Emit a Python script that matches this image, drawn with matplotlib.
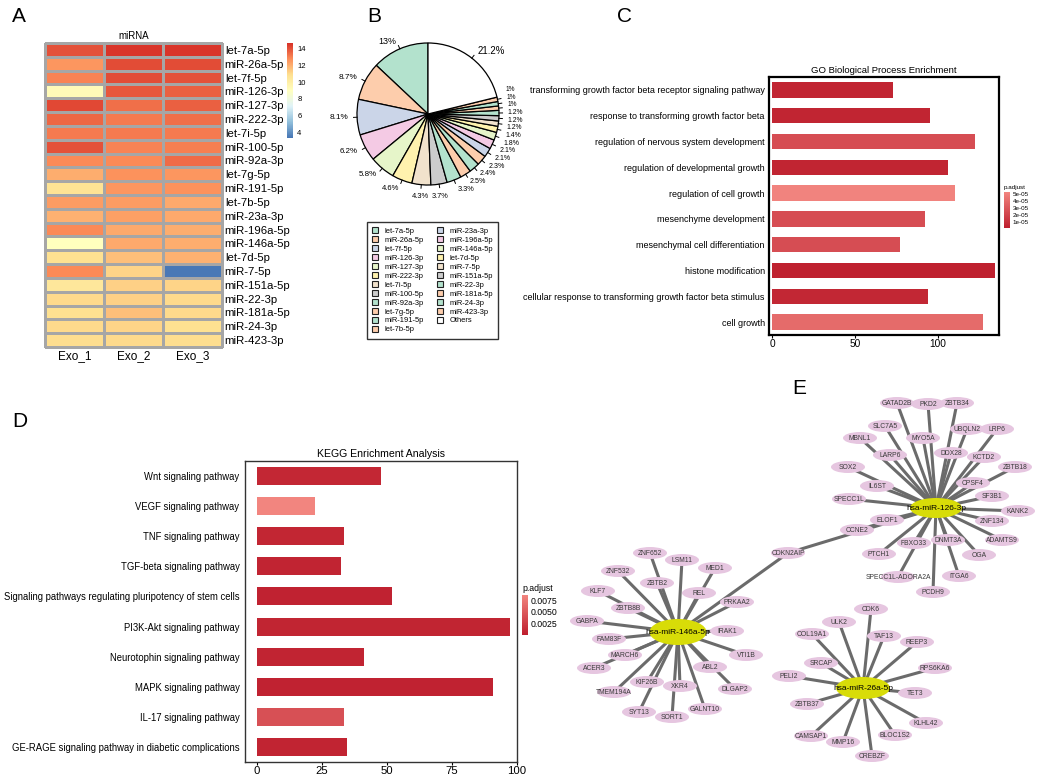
import numpy as np
import matplotlib.pyplot as plt
from matplotlib.colors import LinearSegmentedColormap, Normalize
from matplotlib.patches import Ellipse, Patch
import matplotlib.cm as cm

plt.rcParams['font.family'] = ['Liberation Sans', 'DejaVu Sans']

W, H = 1038, 777

# ---------------- A: miRNA heatmap ----------------
mirnas = ['let-7a-5p', 'miR-26a-5p', 'let-7f-5p', 'miR-126-3p', 'miR-127-3p',
          'miR-222-3p', 'let-7i-5p', 'miR-100-5p', 'miR-92a-3p', 'let-7g-5p',
          'miR-191-5p', 'let-7b-5p', 'miR-23a-3p', 'miR-196a-5p', 'miR-146a-5p',
          'let-7d-5p', 'miR-7-5p', 'miR-151a-5p', 'miR-22-3p', 'miR-181a-5p',
          'miR-24-3p', 'miR-423-3p']
samples = ['Exo_1', 'Exo_2', 'Exo_3']
exo_1 = [13.9, 12.5, 12.9, 9.3, 14.1, 13.5, 13.1, 13.9, 12.8, 12.0, 10.7, 12.4,
         11.9, 12.8, 9.0, 10.8, 12.8, 10.4, 11.0, 10.8, 11.0, 10.9]
exo_2 = [14.5, 14.0, 14.0, 13.8, 13.3, 13.1, 13.1, 12.9, 12.8, 12.6, 12.5, 12.4,
         12.3, 12.1, 12.1, 11.6, 11.1, 11.2, 11.2, 11.6, 11.1, 11.0]
exo_3 = [14.5, 14.0, 13.9, 13.6, 13.6, 13.3, 13.1, 13.0, 13.4, 12.5, 12.6, 12.1,
         12.1, 12.0, 12.0, 11.9, 3.5, 11.1, 11.0, 11.0, 10.8, 10.9]

# ---------------- B: pie of miRNA share ----------------
pie_labels = mirnas + ['Others']
pie_pct = [13, 8.7, 8.1, 6.2, 5.8, 4.6, 4.3, 3.7, 3.3, 2.5, 2.4, 2.3, 2.1, 2.1,
           1.8, 1.4, 1.2, 1.2, 1.2, 1, 1, 1, 21.2]
pie_colors = ['#B3E2CD', '#FDCDAC', '#CBD5E8', '#F4CAE4', '#E6F5C9', '#FFF2AE',
              '#F1E2CC', '#CCCCCC', '#B3E2CD', '#FDCDAC', '#B3E2CD', '#FDCDAC',
              '#CBD5E8', '#F4CAE4', '#E6F5C9', '#FFF2AE', '#F1E2CC', '#CCCCCC',
              '#B3E2CD', '#FDCDAC', '#B3E2CD', '#FDCDAC', '#FFFFFF']

# ---------------- C: GO enrichment ----------------
go_terms = ['transforming growth factor beta receptor signaling pathway',
            'response to transforming growth factor beta',
            'regulation of nervous system development',
            'regulation of developmental growth',
            'regulation of cell growth',
            'mesenchyme development',
            'mesenchymal cell differentiation',
            'histone modification',
            'cellular response to transforming growth factor beta stimulus',
            'cell growth']
go_count = [73, 95, 122, 106, 110, 92, 77, 134, 94, 127]
go_padj = [5e-6, 5e-6, 2.5e-5, 5e-6, 5.2e-5, 2.5e-5, 2.5e-5, 3e-6, 6e-6, 4e-5]

# ---------------- D: KEGG enrichment ----------------
kegg_terms = ['Wnt signaling pathway', 'VEGF signaling pathway', 'TNF signaling pathway',
              'TGF-beta signaling pathway',
              'Signaling pathways regulating pluripotency of stem cells',
              'PI3K-Akt signaling pathway', 'Neurotophin signaling pathway',
              'MAPK signaling pathway', 'IL-17 signaling pathway',
              'GE-RAGE signaling pathway in diabetic complications']
kegg_count = [47.6, 22.3, 33.5, 32.4, 52, 97.2, 41.1, 90.7, 33.4, 34.5]
kegg_padj = [0.0008, 0.0086, 0.0007, 0.0005, 0.0004, 0.0006, 0.0005, 0.0004, 0.0042, 0.0005]

# ---------------- E: miRNA-target network ----------------
hub_names = ['hsa-miR-126-3p', 'hsa-miR-146a-5p', 'hsa-miR-26a-5p']
hub_xy = [(936, 508), (678, 632), (863, 688)]
hub_size = [(52, 20), (57, 26), (54, 22)]
t126_names = ['GATAD2B', 'PKD2', 'ZBTB34', 'SLC7A5', 'UBQLN2', 'LRP6', 'MBNL1', 'MYO5A',
              'DDX28', 'LARP6', 'KCTD2', 'ZBTB18', 'SOX2', 'IL6ST', 'CPSF4', 'SF3B1',
              'SPECC1L', 'KANK2', 'ELOF1', 'ZNF134', 'CCNE2', 'ADAMTS9', 'FBXO33',
              'DNMT3A', 'PTCH1', 'OGA', 'SPECC1L-ADORA2A', 'ITGA6', 'PCDH9', 'CDKN2AIP']
t126_xy = [(897, 403), (928, 404), (957, 403), (885, 426), (967, 429), (997, 429),
           (860, 438), (923, 438), (951, 453), (890, 455), (984, 457), (1015, 467),
           (848, 467), (877, 486), (973, 483), (992, 496), (849, 499), (1018, 511),
           (887, 520), (992, 521), (857, 530), (1002, 540), (914, 543), (948, 540),
           (879, 554), (979, 555), (898, 577), (959, 576), (933, 592), (788, 553)]
t146_names = ['ZNF652', 'LSM11', 'MED1', 'ZNF532', 'ZBTB2', 'KLF7', 'REL', 'PRKAA2',
              'ZBTB8B', 'GABPA', 'IRAK1', 'FAM83F', 'MARCH6', 'VTI1B', 'ACER3', 'ABL2',
              'KIF26B', 'XKR4', 'DLGAP2', 'TMEM194A', 'GALNT10', 'SYT13', 'SORT1']
t146_xy = [(650, 553), (682, 560), (715, 568), (618, 571), (657, 583), (598, 591),
           (699, 593), (737, 602), (628, 608), (587, 621), (727, 631), (609, 639),
           (625, 655), (746, 655), (594, 668), (710, 667), (647, 682), (680, 686),
           (735, 689), (614, 692), (705, 709), (639, 712), (672, 717)]
t26_names = ['CDK6', 'ULK2', 'COL19A1', 'TAF13', 'REEP3', 'SRCAP', 'RPS6KA6', 'PELI2',
             'TET3', 'ZBTB37', 'KLHL42', 'CAMSAP1', 'BLOC1S2', 'MMP16', 'CREBZF']
t26_xy = [(871, 609), (839, 622), (812, 634), (884, 636), (917, 642), (821, 663),
          (935, 668), (789, 676), (915, 693), (807, 704), (926, 723), (811, 736),
          (895, 735), (843, 742), (872, 756)]

fig = plt.figure(figsize=(10.38, 7.77), dpi=100)


def px_axes(x0, y0, x1, y1):
    return fig.add_axes([x0 / W, 1 - y1 / H, (x1 - x0) / W, (y1 - y0) / H])


# ---- A
heat_cmap = LinearSegmentedColormap.from_list(
    'rdylbu', ['#4575B4', '#91BFDB', '#E0F3F8', '#FFFFBF', '#FEE090', '#FC8D59', '#D73027'])
ax = px_axes(45, 43, 222, 347)
mat = np.column_stack([exo_1, exo_2, exo_3])
mesh = ax.pcolormesh(mat, cmap=heat_cmap, vmin=3.4, vmax=14.6,
                     edgecolors='#A6A6A6', linewidth=1.0)
mesh.set_clip_on(False)
ax.set_xlim(0, 3)
ax.set_ylim(len(mirnas), 0)
ax.yaxis.tick_right()
ax.set_yticks(np.arange(len(mirnas)) + 0.5, mirnas, fontsize=8.2)
ax.set_xticks(np.arange(3) + 0.5, samples, fontsize=8.5)
ax.tick_params(length=0, pad=2)
for s in ax.spines.values():
    s.set_visible(False)
ax.set_title('miRNA', fontsize=7, pad=3)
cax = px_axes(287, 43, 293, 138)
cb = fig.colorbar(mesh, cax=cax, ticks=range(4, 15, 2))
cb.outline.set_visible(False)
cax.tick_params(labelsize=5.5, length=0, pad=3)

# ---- B
axp = px_axes(308, -6, 548, 234)
axp.pie(pie_pct, colors=pie_colors, startangle=90, counterclock=True,
        wedgeprops=dict(edgecolor='black', linewidth=0.9))
axp.set_xlim(-1.69, 1.69)
axp.set_ylim(-1.69, 1.69)
axp.set_aspect('equal')
axp.axis('off')

pct = np.array(pie_pct, dtype=float)
frac = pct / pct.sum()
start = 90 + 360 * np.concatenate([[0], np.cumsum(frac)[:-1]])
mid = np.deg2rad(start + 180 * frac)
r_lab = 1.12
lx = r_lab * np.cos(mid)
ly = r_lab * np.sin(mid)
ang = np.rad2deg(np.arctan2(np.sin(mid), np.cos(mid)))
grp = np.where((ang > -70) & (ang < 40) & (pct < 4))[0]
order = grp[np.argsort(-ly[grp])]
gap = 0.108
for _ in range(400):
    for a, b in zip(order[:-1], order[1:]):
        diff = ly[a] - ly[b]
        if diff < gap:
            d = (gap - diff) / 2
            ly[a] += d
            ly[b] -= d
for i, (p, m) in enumerate(zip(pct, mid)):
    c, s = np.cos(m), np.sin(m)
    axp.plot([c, 1.05 * c], [s, 1.05 * s], color='black', lw=0.7)
    ha = 'left' if c > 0.35 else ('right' if c < -0.35 else 'center')
    va = 'top' if (s < -0.9 and ha == 'center') else 'center'
    axp.text(lx[i], ly[i], f'{p:g}%', ha=ha, va=va,
             fontsize=4.2 + 0.6 * np.sqrt(p))

handles = [Patch(facecolor=c, edgecolor='#222222', linewidth=0.8) for c in pie_colors]
leg = fig.legend(handles, pie_labels, loc='upper left', bbox_to_anchor=(367 / W, 1 - 222 / H),
                 ncol=2, fontsize=5.4, frameon=True, edgecolor='black', fancybox=False,
                 handlelength=0.8, handleheight=0.8, labelspacing=0.2, columnspacing=1.8,
                 borderpad=0.7, handletextpad=0.8, borderaxespad=0)
leg.get_frame().set_linewidth(1.0)

# ---- C
red_cmap = LinearSegmentedColormap.from_list('reds', ['#BE1E2D', '#F2857F'])
norm_c = Normalize(1.4e-6, 5.3e-5)
axc = px_axes(769, 77, 999, 335)
yc = np.arange(len(go_terms))
axc.barh(yc, go_count, height=0.6, color=red_cmap(norm_c(np.array(go_padj))))
axc.set_ylim(len(go_terms) - 0.5, -0.5)
axc.set_xlim(-1.8, 136.7)
axc.set_xticks([0, 50, 100])
axc.set_yticks(yc, go_terms, fontsize=6.5)
axc.tick_params(axis='y', length=0, pad=3)
axc.tick_params(axis='x', length=2, labelsize=7.3, pad=1)
for s in axc.spines.values():
    s.set_linewidth(1.6)
axc.set_title('GO Biological Process Enrichment', fontsize=6.8, pad=3)
caxc = px_axes(1004, 192, 1010, 228)
cbc = fig.colorbar(cm.ScalarMappable(norm=norm_c, cmap=red_cmap), cax=caxc,
                   ticks=[1e-5, 2e-5, 3e-5, 4e-5, 5e-5])
cbc.outline.set_visible(False)
caxc.set_yticklabels(['1e-05', '2e-05', '3e-05', '4e-05', '5e-05'])
caxc.tick_params(labelsize=4.5, length=0, pad=2)
caxc.set_title('p.adjust', fontsize=4.5, loc='left', pad=2)

# ---- D
norm_d = Normalize(0, 0.0086)
axd = px_axes(245, 461, 517, 762)
yd = np.arange(len(kegg_terms))
axd.barh(yd, kegg_count, height=0.6, color=red_cmap(norm_d(np.array(kegg_padj))))
axd.set_ylim(len(kegg_terms) - 0.5, -0.5)
axd.set_xlim(-4.6, 100)
axd.set_xticks([0, 25, 50, 75, 100])
axd.set_yticks(yd, kegg_terms, fontsize=6.85)
axd.tick_params(axis='y', length=0, pad=4)
axd.tick_params(axis='x', length=2, labelsize=8.2, pad=1)
for s in axd.spines.values():
    s.set_linewidth(1.0)
    s.set_color('#333333')
axd.set_title('KEGG Enrichment Analysis', fontsize=7.6, pad=3)
caxd = px_axes(522, 595, 528, 635)
cbd = fig.colorbar(cm.ScalarMappable(norm=norm_d, cmap=red_cmap), cax=caxd,
                   ticks=[0.0025, 0.005, 0.0075])
cbd.outline.set_visible(False)
caxd.set_yticklabels(['0.0025', '0.0050', '0.0075'])
caxd.tick_params(labelsize=6.3, length=0, pad=2)
caxd.set_title('p.adjust', fontsize=6.3, loc='left', pad=3)

# ---- E
axe = px_axes(540, 370, 1038, 777)
axe.set_xlim(540, 1038)
axe.set_ylim(777, 370)
axe.axis('off')
targets = [(t126_names, t126_xy), (t146_names, t146_xy), (t26_names, t26_xy)]
for (hx, hy), (names, xy) in zip(hub_xy, targets):
    for tx, ty in xy:
        axe.plot([hx, tx], [hy, ty], color='#6B6B6B', lw=2.2, zorder=1,
                 solid_capstyle='butt')
# CDKN2AIP is shared with miR-146a-5p
cdk = t126_xy[t126_names.index('CDKN2AIP')]
axe.plot([hub_xy[1][0], cdk[0]], [hub_xy[1][1], cdk[1]], color='#6B6B6B', lw=2.2, zorder=1)
for names, xy in targets:
    for n, (tx, ty) in zip(names, xy):
        axe.add_patch(Ellipse((tx, ty), 34, 12, fc='#E6C6E0', ec='none', zorder=2))
        axe.text(tx, ty, n, fontsize=4.9, color='#3A3A3A', ha='center', va='center', zorder=3)
for n, (hx, hy), (w, h) in zip(hub_names, hub_xy, hub_size):
    axe.add_patch(Ellipse((hx, hy), w, h, fc='#D8DC08', ec='none', zorder=4))
    axe.text(hx, hy, n, fontsize=6, color='black', ha='center', va='center', zorder=5)

# panel letters
for letter, x, y in [('A', 12, 22), ('B', 367, 22), ('C', 617, 22), ('D', 12, 427), ('E', 792, 394)]:
    fig.text(x / W, 1 - y / H, letter, fontsize=15, va='baseline')

fig.savefig('out.png', dpi=100)
